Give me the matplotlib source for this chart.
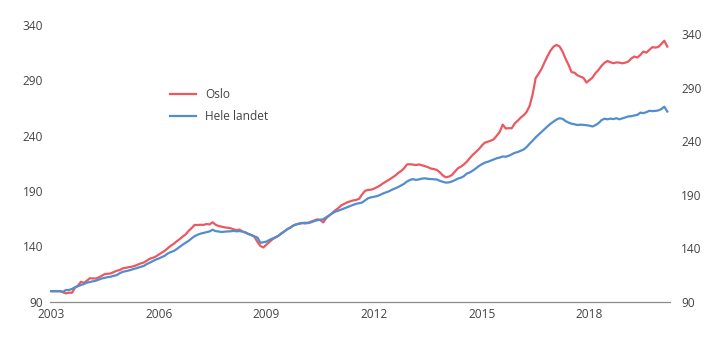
import matplotlib
matplotlib.use("Agg")
import matplotlib.pyplot as plt
import numpy as np

plt.rcParams['font.family'] = ['Open Sans', 'DejaVu Sans']

# Monthly house price index, January 2003 = 100
start_year = 2003
oslo = [
    99.5, 99.5, 99.5, 99.5, 98.5, 97.5, 98.2, 98.0, 102.5, 104.5, 108.0, 107.0,        # 2003
    109.0, 111.2, 111.0, 111.0, 112.0, 113.5, 115.0, 115.2, 115.6, 116.8, 118.0, 118.6,  # 2004
    120.2, 120.6, 121.2, 121.6, 122.4, 123.5, 124.6, 125.4, 127.0, 128.8, 129.6, 130.8,  # 2005
    132.5, 134.3, 136.0, 138.3, 140.5, 142.2, 144.5, 146.5, 148.8, 150.8, 154.0, 156.5,  # 2006
    159.4, 159.3, 159.5, 159.4, 160.2, 159.8, 161.8, 159.6, 158.4, 157.8, 157.2, 156.8,  # 2007
    156.4, 155.4, 154.6, 155.2, 153.4, 152.5, 151.2, 150.2, 148.6, 144.0, 140.3, 139.0,  # 2008
    141.6, 144.0, 146.3, 148.0, 149.5, 151.8, 153.5, 155.6, 157.0, 158.8, 160.0, 160.6,  # 2009
    161.2, 160.6, 161.4, 162.4, 163.5, 164.4, 163.8, 161.6, 165.5, 167.8, 170.0, 172.5,  # 2010
    174.5, 177.0, 178.4, 179.8, 180.6, 181.5, 182.0, 183.0, 187.0, 190.2, 191.0, 191.2,  # 2011
    192.2, 193.5, 195.0, 197.0, 198.6, 200.2, 202.0, 203.8, 206.2, 208.0, 210.5, 214.0,  # 2012
    214.2, 213.8, 213.5, 214.0, 213.3, 212.5, 211.5, 210.3, 209.8, 209.0, 206.8, 204.0,  # 2013
    202.4, 203.0, 204.5, 207.5, 210.5, 212.0, 214.0, 216.5, 219.8, 222.8, 225.2, 227.8,  # 2014
    231.0, 233.7, 234.5, 235.5, 236.8, 240.0, 243.5, 250.0, 246.5, 246.8, 246.7, 251.0,  # 2015
    253.5, 256.3, 258.5, 261.5, 267.0, 277.5, 292.0, 296.0, 300.5, 306.5, 312.0, 317.0,  # 2016
    320.5, 322.0, 320.6, 316.0, 309.5, 304.0, 297.5, 296.8, 294.5, 293.3, 292.2, 288.0,  # 2017
    290.2, 292.5, 296.5, 299.4, 303.0, 305.8, 307.5, 306.3, 305.5, 306.2, 306.0, 305.4,  # 2018
    306.0, 307.0, 309.8, 311.5, 310.6, 313.0, 316.0, 315.0, 317.5, 320.0, 319.6, 320.2,  # 2019
    322.8, 325.8, 320.5,                                                                 # 2020
]
hele_landet = [
    99.5, 99.5, 99.5, 99.5, 99.0, 100.5, 100.6, 101.5, 103.0, 104.0, 105.0, 106.0,       # 2003
    107.2, 107.8, 108.5, 109.0, 110.0, 111.0, 111.6, 112.2, 112.6, 113.4, 114.0, 115.8,  # 2004
    117.0, 117.6, 118.2, 119.0, 119.8, 120.5, 121.4, 122.3, 124.0, 125.2, 126.6, 128.0,  # 2005
    129.0, 130.2, 131.5, 133.5, 134.8, 135.8, 137.5, 139.5, 141.5, 143.2, 145.0, 147.2,  # 2006
    149.2, 150.5, 151.5, 152.2, 152.8, 153.5, 155.0, 153.8, 153.4, 153.0, 153.3, 153.5,  # 2007
    153.6, 154.0, 153.6, 153.8, 153.4, 152.5, 151.2, 150.2, 149.0, 148.0, 143.2, 143.8,  # 2008
    144.3, 145.8, 147.0, 148.3, 149.5, 151.5, 153.5, 155.5, 157.0, 158.8, 159.8, 160.5,  # 2009
    161.0, 161.4, 161.0, 161.8, 162.8, 163.6, 164.0, 164.5, 166.3, 168.0, 169.8, 171.3,  # 2010
    172.2, 173.2, 174.3, 175.3, 176.5, 177.5, 178.4, 179.0, 179.6, 181.5, 183.5, 184.3,  # 2011
    184.9, 185.4, 186.5, 187.8, 188.8, 189.8, 191.2, 192.3, 193.5, 195.0, 196.5, 198.6,  # 2012
    200.0, 200.8, 200.0, 200.5, 201.2, 201.5, 201.0, 200.8, 200.6, 200.4, 199.2, 198.3,  # 2013
    197.6, 197.8, 198.6, 199.8, 201.2, 202.0, 203.4, 205.8, 206.8, 208.5, 210.4, 212.5,  # 2014
    214.2, 215.6, 216.4, 217.5, 218.6, 219.6, 220.2, 221.2, 221.0, 221.8, 223.2, 224.5,  # 2015
    225.2, 226.3, 227.5, 229.8, 232.8, 235.5, 238.5, 241.0, 243.5, 246.0, 248.5, 250.8,  # 2016
    252.8, 254.6, 255.8, 255.2, 253.2, 251.8, 250.8, 250.3, 249.6, 250.0, 249.8, 249.5,  # 2017
    249.0, 248.3, 249.5, 251.3, 254.0, 255.3, 254.8, 255.4, 255.0, 255.8, 254.8, 255.6,  # 2018
    256.5, 257.4, 257.6, 258.3, 258.8, 260.8, 260.4, 261.2, 262.5, 262.2, 262.4, 262.8,  # 2019
    264.0, 266.2, 261.8,                                                                 # 2020
]
year_ticks = [2003, 2006, 2009, 2012, 2015, 2018]
value_ticks = [90, 140, 190, 240, 290, 340]

red = '#ec5860'
blue = '#528dce'
text_color = '#444444'

x = start_year + np.arange(len(oslo)) / 12

fig = plt.figure(figsize=(7.2, 3.41), dpi=100)
ax = fig.add_axes([50 / 720, 1 - 301.7 / 341, 620 / 720, 276.7 / 341])

ax.plot(x, oslo, color=red, lw=1.6, label='Oslo', solid_joinstyle='round')
ax.plot(x, hele_landet, color=blue, lw=1.6, label='Hele landet', solid_joinstyle='round')

ax.set_xlim(start_year - 1 / 35.9, start_year + 619 / 35.9)
ax.set_ylim(90, 340)
ax.set_xticks(year_ticks)
ax.set_yticks(value_ticks)

for side in ['top', 'right', 'left']:
    ax.spines[side].set_visible(False)
ax.spines['bottom'].set_color('#8a8a8a')
ax.spines['bottom'].set_linewidth(0.9)
ax.tick_params(axis='x', length=0, pad=4.5, labelsize=8.6, labelcolor=text_color)
ax.tick_params(axis='y', length=0, pad=5, labelsize=8.6, labelcolor=text_color)

# right-hand scale
ax2 = ax.twinx()
ax2.set_ylim(90, 90 + 276.7 * 250 / 267.4)
ax2.set_yticks(value_ticks)
for side in ['top', 'right', 'left', 'bottom']:
    ax2.spines[side].set_visible(False)
ax2.tick_params(axis='y', length=0, pad=8, labelsize=8.6, labelcolor=text_color)

leg = ax.legend(loc='upper left', bbox_to_anchor=(170 / 720, 1 - 88.5 / 341),
                bbox_transform=fig.transFigure, frameon=False, fontsize=8.6,
                handlelength=2.2, handletextpad=0.75, labelspacing=0.75,
                borderpad=0, borderaxespad=0)
for t in leg.get_texts():
    t.set_color(text_color)

fig.savefig('out.png', dpi=100)
